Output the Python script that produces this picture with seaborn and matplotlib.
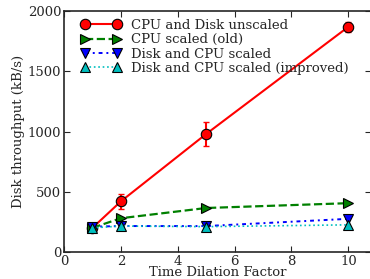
import matplotlib
matplotlib.use("Agg")
import matplotlib.pyplot as plt
import seaborn as sns
import pandas as pd

tdf = [1, 2, 5, 10]
unscaled = [200, 420, 980, 1870]
unscaled_err = [30, 60, 100, 40]
cpu_old = [200, 280, 365, 405]
disk_cpu = [210, 215, 215, 275]
disk_cpu_impr = [200, 215, 210, 225]
labels = ["CPU and Disk unscaled", "CPU scaled (old)", "Disk and CPU scaled",
          "Disk and CPU scaled (improved)"]

sns.set_style("ticks")
plt.rcParams['font.family'] = ['DejaVu Serif']
plt.rcParams['font.size'] = 9.5

df = pd.DataFrame({"tdf": tdf * 4,
                   "tput": unscaled + cpu_old + disk_cpu + disk_cpu_impr,
                   "series": sum([[l] * 4 for l in labels], [])})

fig = plt.figure(figsize=(3.7, 2.79), dpi=100)
ax = fig.add_axes([0.173, 0.097, 0.83, 0.863])

styles = {labels[0]: ("red", "o", "-", 1.5),
          labels[1]: ("green", ">", "--", 1.6),
          labels[2]: ("blue", "v", (0, (2, 2, 1, 2)), 1.4),
          labels[3]: ("c", "^", ":", 1.2)}
for lab in labels:
    c, m, ls, lw = styles[lab]
    sub = df[df.series == lab]
    sns.lineplot(data=sub, x="tdf", y="tput", color=c, marker=m, linestyle=ls,
                 linewidth=lw, markersize=7.5, markeredgecolor="black",
                 markeredgewidth=0.8, label=lab, ax=ax)
ax.errorbar(tdf, unscaled, yerr=unscaled_err, fmt="none", ecolor="red",
            elinewidth=1.5, capsize=2, zorder=1)

ax.set_xlim(0, 10.8)
ax.set_ylim(0, 2000)
ax.set_xticks([0, 2, 4, 6, 8, 10])
ax.set_yticks([0, 500, 1000, 1500, 2000])
ax.tick_params(direction="in", top=True, right=True, length=4, pad=2)
ax.set_xlabel("Time Dilation Factor", labelpad=-1)
ax.set_ylabel("Disk throughput (kB/s)", labelpad=2)
for s in ax.spines.values():
    s.set_linewidth(1.2)
ax.legend(loc="upper left", frameon=False, numpoints=2, handlelength=3,
          labelspacing=0.1, borderaxespad=0.2, handletextpad=0.8,
          bbox_to_anchor=(0.03, 1.0))

fig.savefig("out.png", dpi=100)
